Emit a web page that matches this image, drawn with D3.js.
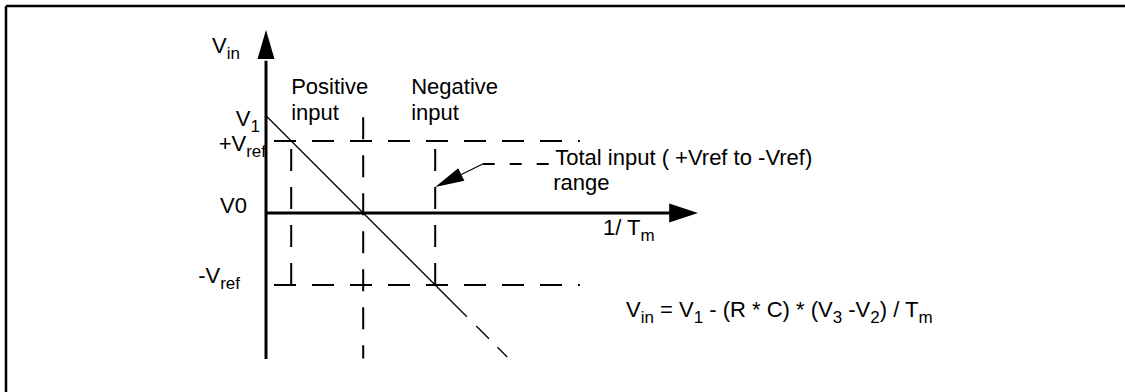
<!DOCTYPE html>
<html>
<head>
<meta charset="utf-8">
<script src="https://cdn.jsdelivr.net/npm/d3@7"></script>
<style>
  html, body { margin: 0; padding: 0; background: #fff; overflow: hidden; }
  svg { display: block; font-family: "Liberation Sans", Arial, Helvetica, sans-serif; }
</style>
</head>
<body>
<svg id="chart" width="1125" height="392"></svg>
<script>
// levels on the Vin axis, in units of Vref (V0 = 0)
var levelNames = ['V1', '+Vref', 'V0', '-Vref'];
var levelValues = [1.35, 1, 0, -1];
// 1/Tm positions of the dashed boundaries (start of positive, zero crossing, end of negative)
var boundaryValues = [0.35, 1.35, 2.35];
var regionLabels = [['Positive', 'input'], ['Negative', 'input']];
var annotationLines = ['Total input ( +Vref to -Vref)', 'range'];
// the line Vin = V1 - slope * (1/Tm)
var lineSlope = [1];

var svg = d3.select('#chart');
var fontSize = 22, subSize = 17, subShift = 6;

var x = d3.scaleLinear().domain([0, 6]).range([266, 698]);
var y = d3.scaleLinear().domain([-1, 1]).range([285, 141]);

var V1 = levelValues[0], vref = levelValues[1], v0 = levelValues[2], nref = levelValues[3];
var vin = function (t) { return V1 - lineSlope[0] * t };

// frame: only the top and left edges are inside the picture
var frame = svg.append('g').attr('stroke', '#000').attr('stroke-width', 2.5);
frame.append('line').attr('x1', 6).attr('y1', 6).attr('x2', 1140).attr('y2', 6);
frame.append('line').attr('x1', 6).attr('y1', 6).attr('x2', 6).attr('y2', 400);

// axes
var yAxisScale = d3.scaleLinear().domain([-2.02, 2.12]).range([y(-2.02), y(2.12)]);
svg.append('g')
  .attr('transform', 'translate(' + (x(0) - 0.5) + ',0)')
  .call(d3.axisLeft(yAxisScale).ticks(0).tickSizeOuter(0))
  .select('.domain').attr('stroke-width', 3);

var xAxisScale = d3.scaleLinear().domain([0, 5.6]).range([x(0), x(5.6)]);
svg.append('g')
  .attr('transform', 'translate(0,' + (y(v0) - 0.5) + ')')
  .call(d3.axisBottom(xAxisScale).ticks(0).tickSizeOuter(0))
  .select('.domain').attr('stroke-width', 3);

// arrow heads
svg.append('path')
  .attr('d', 'M' + x(0) + ',' + y(2.54) + 'L' + (x(0) + 8.5) + ',' + y(2.14) + 'L' + (x(0) - 8.5) + ',' + y(2.14) + 'Z')
  .attr('fill', '#000');
svg.append('path')
  .attr('d', 'M' + x(6) + ',' + y(v0) + 'L' + x(5.6) + ',' + (y(v0) - 9.5) + 'L' + x(5.6) + ',' + (y(v0) + 9.5) + 'Z')
  .attr('fill', '#000');

// dashed level lines
var dashes = '22,16';
svg.append('g').selectAll('line')
  .data([vref, nref])
  .enter().append('line')
  .attr('x1', x(0) + 2).attr('x2', x(4.36))
  .attr('y1', function (d) { return y(d) })
  .attr('y2', function (d) { return y(d) })
  .attr('stroke', '#000')
  .attr('stroke-width', 2)
  .attr('stroke-dasharray', dashes)
  .attr('stroke-dashoffset', -6);

// dashed boundaries
svg.append('g').selectAll('line')
  .data(boundaryValues)
  .enter().append('line')
  .attr('x1', function (d) { return x(d) })
  .attr('x2', function (d) { return x(d) })
  .attr('y1', function (d, i) { return i == 1 ? y(1.33) : y(vref) })
  .attr('y2', function (d, i) { return i == 1 ? y(-2.02) : y(nref) })
  .attr('stroke', '#000')
  .attr('stroke-width', 2)
  .attr('stroke-dasharray', dashes)
  .attr('stroke-dashoffset', function (d, i) { return i == 1 ? 0 : -8 });

// the Vin line, solid then dashed
var line = d3.line().x(function (d) { return x(d) }).y(function (d) { return y(vin(d)) });
svg.append('path')
  .attr('d', line([0, 2.79]))
  .attr('stroke', '#000')
  .attr('stroke-width', 1.3)
  .attr('fill', 'none');
svg.append('path')
  .attr('d', line([2.92, 3.35]))
  .attr('stroke', '#000')
  .attr('stroke-width', 1.3)
  .attr('stroke-dasharray', '18,12')
  .attr('fill', 'none');

// annotation arrow
var tip = [x(boundaryValues[2]), y(0.36)];
var knee = [x(3.01), y(0.68)];
svg.append('path')
  .attr('d', 'M' + knee[0] + ',' + knee[1] + 'H' + x(3.99))
  .attr('stroke', '#000')
  .attr('stroke-width', 2)
  .attr('stroke-dasharray', '12,15')
  .attr('fill', 'none');
var ang = Math.atan2(knee[1] - tip[1], knee[0] - tip[0]);
var headLen = 29, headW = 7;
var bx = tip[0] + headLen * Math.cos(ang), by = tip[1] + headLen * Math.sin(ang);
svg.append('path')
  .attr('d', 'M' + bx + ',' + by + 'L' + knee[0] + ',' + knee[1])
  .attr('stroke', '#000')
  .attr('stroke-width', 1.2);
svg.append('path')
  .attr('d', 'M' + tip[0] + ',' + tip[1] +
    'L' + (bx - headW * Math.sin(ang)) + ',' + (by + headW * Math.cos(ang)) +
    'L' + (bx + headW * Math.sin(ang)) + ',' + (by - headW * Math.cos(ang)) + 'Z')
  .attr('fill', '#000');

// text with subscripts: parts = [[text, isSub], ...]
function label(px, py, parts, anchor) {
  var t = svg.append('text')
    .attr('x', px).attr('y', py)
    .attr('text-anchor', anchor || 'start')
    .style('font-size', fontSize + 'px')
    .attr('fill', '#000');
  var shifted = false;
  parts.forEach(function (p) {
    var s = t.append('tspan').text(p[0]);
    if (p[1]) {
      s.style('font-size', subSize + 'px');
      if (!shifted) { s.attr('dy', subShift); shifted = true }
    } else {
      if (shifted) { s.attr('dy', -subShift); shifted = false }
    }
  });
  return t;
}

function splitName(n) {
  if (n == 'V1') return [['V', 0], ['1', 1]];
  if (n == 'V0') return [['V0', 0]];
  var sign = n.charAt(0);
  return [[sign + 'V', 0], ['ref', 1]];
}

// level labels to the left of the Vin axis
var levelOffset = [[-6, 10], [0, 10], [-19, 0], [-26, -2]];
levelNames.forEach(function (n, i) {
  label(x(0) + levelOffset[i][0], y(levelValues[i]) + levelOffset[i][1], splitName(n), 'end');
});

label(x(0) - 54, y(2.22), [['V', 0], ['in', 1]]);
label(603, y(v0) + 22, [['1/ T', 0], ['m', 1]]);

// region labels
var regionX = [x(boundaryValues[0]), x(boundaryValues[1]) + 48];
regionLabels.forEach(function (r, i) {
  label(regionX[i], 94, [[r[0], 0]]);
  label(regionX[i], 120, [[r[1], 0]]);
});

// annotation text
label(x(3.99) + 2, y(0.68) + 1, [[annotationLines[0], 0]]);
label(x(3.99), y(0.68) + 26, [[annotationLines[1], 0]]);

// formula
label(626, 317, [['V', 0], ['in', 1], [' = V', 0], ['1', 1], [' - (R * C) * (V', 0], ['3', 1],
  [' -V', 0], ['2', 1], [') / T', 0], ['m', 1]]);
</script>
</body>
</html>
